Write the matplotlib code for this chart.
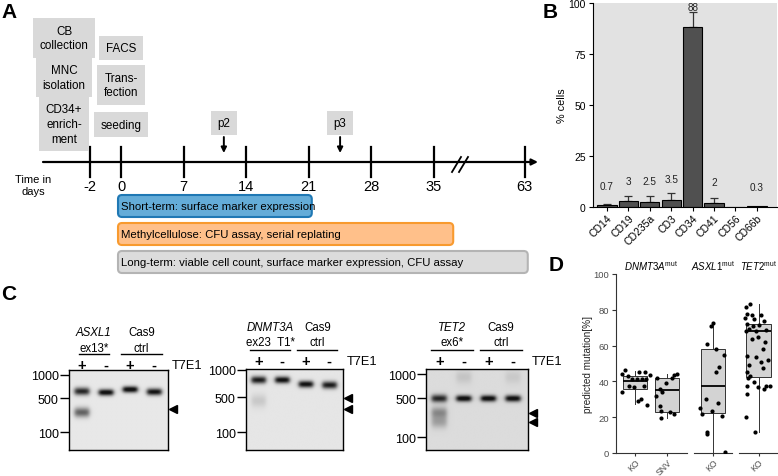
import numpy as np
import matplotlib
matplotlib.use("Agg")
import matplotlib.pyplot as plt
from matplotlib.patches import FancyBboxPatch

plt.rcParams['font.family'] = ['Liberation Sans', 'DejaVu Sans']
plt.rcParams['mathtext.fontset'] = 'custom'
plt.rcParams['mathtext.rm'] = 'Liberation Sans'
plt.rcParams['mathtext.it'] = 'Liberation Sans:italic'

# ---------------- data ----------------
# A: experimental timeline
tick_days = [-2, 0, 7, 14, 21, 28, 35, 63]
prep_steps = ["CB\ncollection", "MNC\nisolation", "CD34+\nenrich-\nment"]
day0_steps = ["FACS", "Trans-\nfection", "seeding"]
passage_labels = ["p2", "p3"]
passage_days = [11.5, 24.5]
assay_labels = ["Short-term: surface marker expression",
                "Methylcellulose: CFU assay, serial replating",
                "Long-term: viable cell count, surface marker expression, CFU assay"]
assay_start = [0, 0, 0]
assay_end = [21, 40, 63]

# B: surface markers after enrichment
markers = ["CD14", "CD19", "CD235a", "CD3", "CD34", "CD41", "CD56", "CD66b"]
pct_cells = [0.7, 3, 2.5, 3.5, 88, 2, 0, 0.3]
pct_err = [0.5, 2.1, 2.9, 3.2, 7.8, 2.1, 0, 0]
pct_text = ["0.7", "3", "2.5", "3.5", "88", "2", "", "0.3"]

# C: T7E1 gels (lane, size in bp, intensity)
ladder_bp = [1000, 500, 100]
gel_genes = ["ASXL1", "DNMT3A", "TET2"]
gel_targets = ["ex13*", "ex23  T1*", "ex6*"]
lane_signs = ["+", "-", "+", "-"]
asxl1_bands = [(1, 620, 0.8), (1, 260, 0.55), (2, 600, 0.95), (3, 655, 0.97), (4, 610, 0.9)]
dnmt3a_bands = [(1, 780, 0.85), (1, 430, 0.12), (2, 780, 0.92), (3, 700, 0.92), (4, 685, 0.85)]
tet2_bands = [(1, 500, 0.8), (1, 280, 0.35), (1, 190, 0.25), (2, 500, 0.97), (3, 500, 0.97),
              (4, 500, 0.95), (2, 920, 0.1), (4, 920, 0.08)]
gel_cut_bp = [[300], [480, 290], [270, 190]]

# D: predicted mutation frequency per clone (value, jitter offset)
dnmt_ko_val = [46.5, 44.1, 45.4, 45.4, 43.5, 42.8, 41.3, 41.3, 41.3, 41.3, 37.2, 36.6, 37.2, 33.9, 30.1, 29.2, 26.8]
dnmt_ko_dx = [-0.32, -0.42, 0.13, 0.31, 0.46, -0.23, -0.10, 0.06, 0.21, 0.34, -0.18, -0.03, 0.27, -0.42, 0.18, 0.10, 0.37]
dnmt_snv_val = [41.9, 35.7, 34.2, 31.6, 26.0, 23.6, 19.3, 39.1, 41.9, 43.5, 44.1, 22.7, 21.8]
dnmt_snv_dx = [-0.33, -0.24, -0.17, -0.35, -0.22, -0.21, -0.19, -0.04, 0.14, 0.19, 0.31, 0.09, 0.19]
asxl1_val = [72.6, 70.7, 60.9, 58.2, 54.9, 47.9, 45.1, 30.2, 27.9, 25.0, 23.6, 21.8, 20.5, 11.9, 10.6, 0.7]
asxl1_dx = [0.01, -0.07, -0.18, 0.10, 0.33, 0.17, 0.09, -0.22, 0.14, -0.41, -0.04, -0.36, 0.27, -0.18, -0.18, 0.38]
tet2_val = [83.2, 81.3, 77.6, 77.0, 77.0, 75.2, 74.8, 73.9, 72.0, 71.1, 71.4, 69.2, 68.3, 68.3, 68.8, 63.6,
            64.6, 61.8, 58.0, 54.3, 53.4, 52.1, 50.6, 49.1, 47.3, 45.0, 43.2, 41.7, 39.4, 37.2, 36.6, 37.2,
            37.6, 35.7, 32.9, 19.9, 11.9]
tet2_dx = [-0.27, -0.39, -0.34, -0.21, 0.08, -0.42, -0.13, 0.16, -0.34, -0.18, 0.03, -0.29, -0.39, -0.08,
           0.23, -0.21, -0.03, 0.21, 0.13, -0.34, -0.08, 0.29, 0.08, -0.29, 0.13, -0.36, -0.26, -0.32,
           -0.13, -0.36, -0.01, 0.23, 0.34, 0.16, -0.36, -0.37, -0.11]
# box stats: q1, median, q3, lower whisker, upper whisker
dnmt_ko_box = (35.7, 40.2, 42.8, 27.2, 46.0)
dnmt_snv_box = (22.7, 35.0, 41.9, 19.3, 44.3)
asxl1_box = (22.1, 37.6, 58.0, 0.7, 72.6)
tet2_box = (42.2, 67.9, 72.0, 11.9, 83.2)

# ---------------- figure ----------------
W, H = 778, 477
fig = plt.figure(figsize=(W / 100, H / 100), dpi=100)


def px_axes(x0, y0, x1, y1):
    return fig.add_axes([x0 / W, 1 - y1 / H, (x1 - x0) / W, (y1 - y0) / H])


for lab, (x, y) in zip("ABCD", [(9, 12), (550, 13), (9, 295), (556, 266)]):
    fig.text(x / W, 1 - y / H, lab, fontsize=15, fontweight='bold', ha='center', va='center')

# ---- A ----
axA = px_axes(0, 0, 540, 295)
axA.set_xlim(0, 540)
axA.set_ylim(295, 0)
axA.axis('off')

tick_slot = [-0.5, 0, 1, 2, 3, 4, 5, 6.45]


def day_x(d):
    return 121 + 62.6 * np.interp(d, tick_days, tick_slot)


line_y = 163
axA.annotate('', xy=(538, line_y), xytext=(43, line_y),
             arrowprops=dict(arrowstyle='-|>', lw=1.6, color='black', mutation_scale=9, shrinkA=0, shrinkB=0))
for d in tick_days:
    x = day_x(d)
    axA.plot([x, x], [148, 178], color='black', lw=1.6)
    axA.text(x, 187, str(d), ha='center', va='center', fontsize=10.5)
for dx in (0, 7):
    axA.plot([452 + dx, 461 + dx], [173, 158], color='black', lw=1.3)
axA.text(33, 186, "Time in\ndays", ha='center', va='center', fontsize=8, linespacing=1.35)

box_kw = dict(boxstyle='square,pad=0.55', fc='#d9d9d9', ec='none')
for txt, y in zip(prep_steps, [39, 78.7, 125]):
    axA.text(64, y, txt, ha='center', va='center', fontsize=8.4, linespacing=1.3, bbox=box_kw)
for txt, y in zip(day0_steps, [49, 86, 125.7]):
    axA.text(day_x(0), y, txt, ha='center', va='center', fontsize=8.4, linespacing=1.3, bbox=box_kw)
for txt, d in zip(passage_labels, passage_days):
    x = day_x(d)
    axA.text(x, 124, txt, ha='center', va='center', fontsize=8.4, bbox=box_kw)
    axA.annotate('', xy=(x, 154), xytext=(x, 138),
                 arrowprops=dict(arrowstyle='-|>', lw=1.4, color='black', mutation_scale=8, shrinkA=0, shrinkB=0))

bar_fc = ['#64acd8', '#ffc08a', '#dcdcdc']
bar_ec = ['#1f78b4', '#f89a2e', '#b4b4b4']
for i, (txt, s, e) in enumerate(zip(assay_labels, assay_start, assay_end)):
    y0 = 196 + 28 * i
    x0, x1 = day_x(s) - 3, day_x(e) + 3
    axA.add_patch(FancyBboxPatch((x0, y0), x1 - x0, 22, boxstyle='round,pad=0,rounding_size=4',
                                 fc=bar_fc[i], ec=bar_ec[i], lw=1.5))
    axA.text(x0 + 3, y0 + 11.5, txt, ha='left', va='center', fontsize=8.2)

# ---- B ----
axB = px_axes(592.7, 4, 777, 207.7)
axB.set_facecolor('#e2e2e2')
xb = np.arange(len(markers))
axB.bar(xb, pct_cells, width=0.9, color='#505050', edgecolor='black', linewidth=0.8, zorder=2)
has_err = [i for i, e in enumerate(pct_err) if e > 0]
axB.errorbar(xb[has_err], np.array(pct_cells)[has_err], yerr=[np.zeros(len(has_err)), np.array(pct_err)[has_err]],
             fmt='none', ecolor='#333333', elinewidth=0.9, capsize=3, capthick=0.9, zorder=1)
for i, t in enumerate(pct_text):
    top = pct_cells[i] + pct_err[i]
    axB.text(xb[i], top + max(8 - 0.4 * top, 0.6), t, ha='center', va='baseline', fontsize=7.2, color='#222222')
axB.set_xlim(-0.67, 7.94)
axB.set_ylim(0, 100)
axB.set_yticks([0, 25, 50, 75, 100])
axB.set_xticks(xb)
axB.set_xticklabels(markers, rotation=45, ha='right', rotation_mode='anchor', fontsize=7.5)
axB.tick_params(axis='y', labelsize=7.5, length=3, pad=2)
axB.tick_params(axis='x', length=3, pad=1)
for s in ('top', 'right'):
    axB.spines[s].set_visible(False)
axB.set_ylabel("% cells", fontsize=7.8)
axB.yaxis.set_label_coords(-0.14, 0.5)

# ---- C ----
gel_boxes = [(69, 370.7, 168, 450.7), (246, 370, 343.3, 450.7), (426.5, 370, 528, 450.7)]
gel_ladder_pos = [[0.062, 0.357, 0.782], [0.012, 0.351, 0.785], [0.062, 0.363, 0.847]]
gel_bg = [0.91, 0.9, 0.86]
gel_bands = [asxl1_bands, dnmt3a_bands, tet2_bands]
gx0, gx1 = 0.47, 4.6


def bp_to_pos(bp, pos):
    return np.interp(-np.log10(bp), -np.log10(ladder_bp), pos)


for g in range(3):
    x0, y0, x1, y1 = gel_boxes[g]
    ax = px_axes(x0, y0, x1, y1)
    xs = np.linspace(gx0, gx1, 240)
    ys = np.linspace(0, 1, 260)
    X, Y = np.meshgrid(xs, ys)
    dark = np.zeros_like(X)
    for lane, bp, inten in gel_bands[g]:
        yc = bp_to_pos(bp, gel_ladder_pos[g])
        sig = 0.027 + 0.035 * (1 - inten)
        xprof = 1 / (1 + np.exp((np.abs(X - lane) - 0.3) / 0.05))
        dark += inten * xprof * np.exp(-0.5 * ((Y - yc) / sig) ** 2)
    img = gel_bg[g] * (1 - 0.92 * np.clip(dark * 1.15, 0, 1))
    ax.imshow(img, cmap='gray', vmin=0, vmax=1, extent=(gx0, gx1, 1, 0), aspect='auto', interpolation='bilinear')
    ax.set_xlim(gx0, gx1)
    ax.set_ylim(1, 0)
    ax.set_xticks([])
    ax.set_yticks(gel_ladder_pos[g])
    ax.set_yticklabels([str(b) for b in ladder_bp])
    ax.tick_params(axis='y', length=6.5, width=1, labelsize=9, pad=1)
    for s in ax.spines.values():
        s.set_linewidth(1)

    top_off = [1.467, 1.267, 1.196, 1.059] if g == 0 else [1.517, 1.331, 1.239, 1.103]
    tr = ax.get_xaxis_transform()
    ax.text(1.5, top_off[0], gel_genes[g], transform=tr, ha='center', va='center', fontsize=8.3,
            style='italic', clip_on=False)
    ax.text(1.5, top_off[1], gel_targets[g], transform=tr, ha='center', va='center', fontsize=8.3, clip_on=False)
    ax.text(3.5, top_off[0], "Cas9", transform=tr, ha='center', va='center', fontsize=8.3, clip_on=False)
    ax.text(3.5, top_off[1], "ctrl", transform=tr, ha='center', va='center', fontsize=8.3, clip_on=False)
    hw = 0.62 if g == 0 else 0.85
    ax.plot([1.5 - hw, 1.5 + hw], [top_off[2]] * 2, transform=tr, color='black', lw=1, clip_on=False)
    ax.plot([2.65, 4.35], [top_off[2]] * 2, transform=tr, color='black', lw=1, clip_on=False)
    for i, sgn in enumerate(lane_signs):
        ax.text(i + 1, top_off[3], sgn, transform=tr, ha='center', va='center', fontsize=10.5,
                fontweight='bold', clip_on=False)
    ax.text(1.04, top_off[3], "T7E1", transform=ax.transAxes, ha='left', va='center', fontsize=9.2, clip_on=False)
    ytr = ax.get_yaxis_transform()
    for bp in gel_cut_bp[g]:
        ax.plot([1.05], [bp_to_pos(bp, gel_ladder_pos[g])], marker='<', color='black', ms=5.5,
                transform=ytr, clip_on=False, linestyle='none')

# ---- D ----
facet_px = [(616, 686.7), (694, 732.3), (739, 778)]
facet_xlim = [(-0.6, 1.6), (-0.6, 0.6), (-0.6, 0.6)]
facet_groups = [
    [("KO", dnmt_ko_val, dnmt_ko_dx, dnmt_ko_box), ("SNV", dnmt_snv_val, dnmt_snv_dx, dnmt_snv_box)],
    [("KO", asxl1_val, asxl1_dx, asxl1_box)],
    [("KO", tet2_val, tet2_dx, tet2_box)],
]
facet_titles = [r'$\mathit{DNMT3A}^{\mathrm{mut}}$', r'$\mathit{ASXL1}^{\mathrm{mut}}$', r'$\mathit{TET2}^{\mathrm{mut}}$']
axc = '#333333'
for f, (xa, xb_) in enumerate(facet_px):
    ax = px_axes(xa, 274.9, xb_, 454)
    ax.set_xlim(*facet_xlim[f])
    ax.set_ylim(0, 100)
    stats = []
    for k, (lab, vals, dxs, bx) in enumerate(facet_groups[f]):
        q1, med, q3, lo, hi = bx
        stats.append(dict(q1=q1, med=med, q3=q3, whislo=lo, whishi=hi, fliers=[], label=lab))
    pos = np.arange(len(stats))
    ax.bxp(stats, positions=pos, widths=0.75, patch_artist=True, showcaps=False, showfliers=False,
           boxprops=dict(facecolor='#d3d3d3', edgecolor=axc, linewidth=0.7),
           whiskerprops=dict(color=axc, linewidth=0.7),
           medianprops=dict(color='black', linewidth=1.3))
    for k, (lab, vals, dxs, bx) in enumerate(facet_groups[f]):
        ax.scatter(k + np.array(dxs), vals, s=9, color='black', zorder=3, linewidths=0)
    ax.set_xticks(pos)
    ax.set_xticklabels([g[0] for g in facet_groups[f]], rotation=45, ha='right', rotation_mode='anchor',
                       fontsize=6.3, color='#4d4d4d')
    ax.tick_params(axis='x', length=2.5, color=axc, pad=0.5)
    for s in ('top', 'right'):
        ax.spines[s].set_visible(False)
    ax.spines['bottom'].set_color(axc)
    ax.spines['bottom'].set_linewidth(0.8)
    if f == 0:
        ax.set_yticks([0, 20, 40, 60, 80, 100])
        ax.tick_params(axis='y', length=3, color=axc, labelsize=6.8, labelcolor='#4d4d4d', pad=2)
        ax.spines['left'].set_color(axc)
        ax.spines['left'].set_linewidth(0.8)
        ax.set_ylabel("predicted mutation[%]", fontsize=7.2, color='#222222')
        ax.yaxis.set_label_coords(-0.33, 0.5)
    else:
        ax.spines['left'].set_visible(False)
        ax.set_yticks([])
    fig.text((xa + xb_) / 2 / W, 1 - 266 / H, facet_titles[f], ha='center', va='center', fontsize=7)

fig.savefig("out.png", dpi=100)
